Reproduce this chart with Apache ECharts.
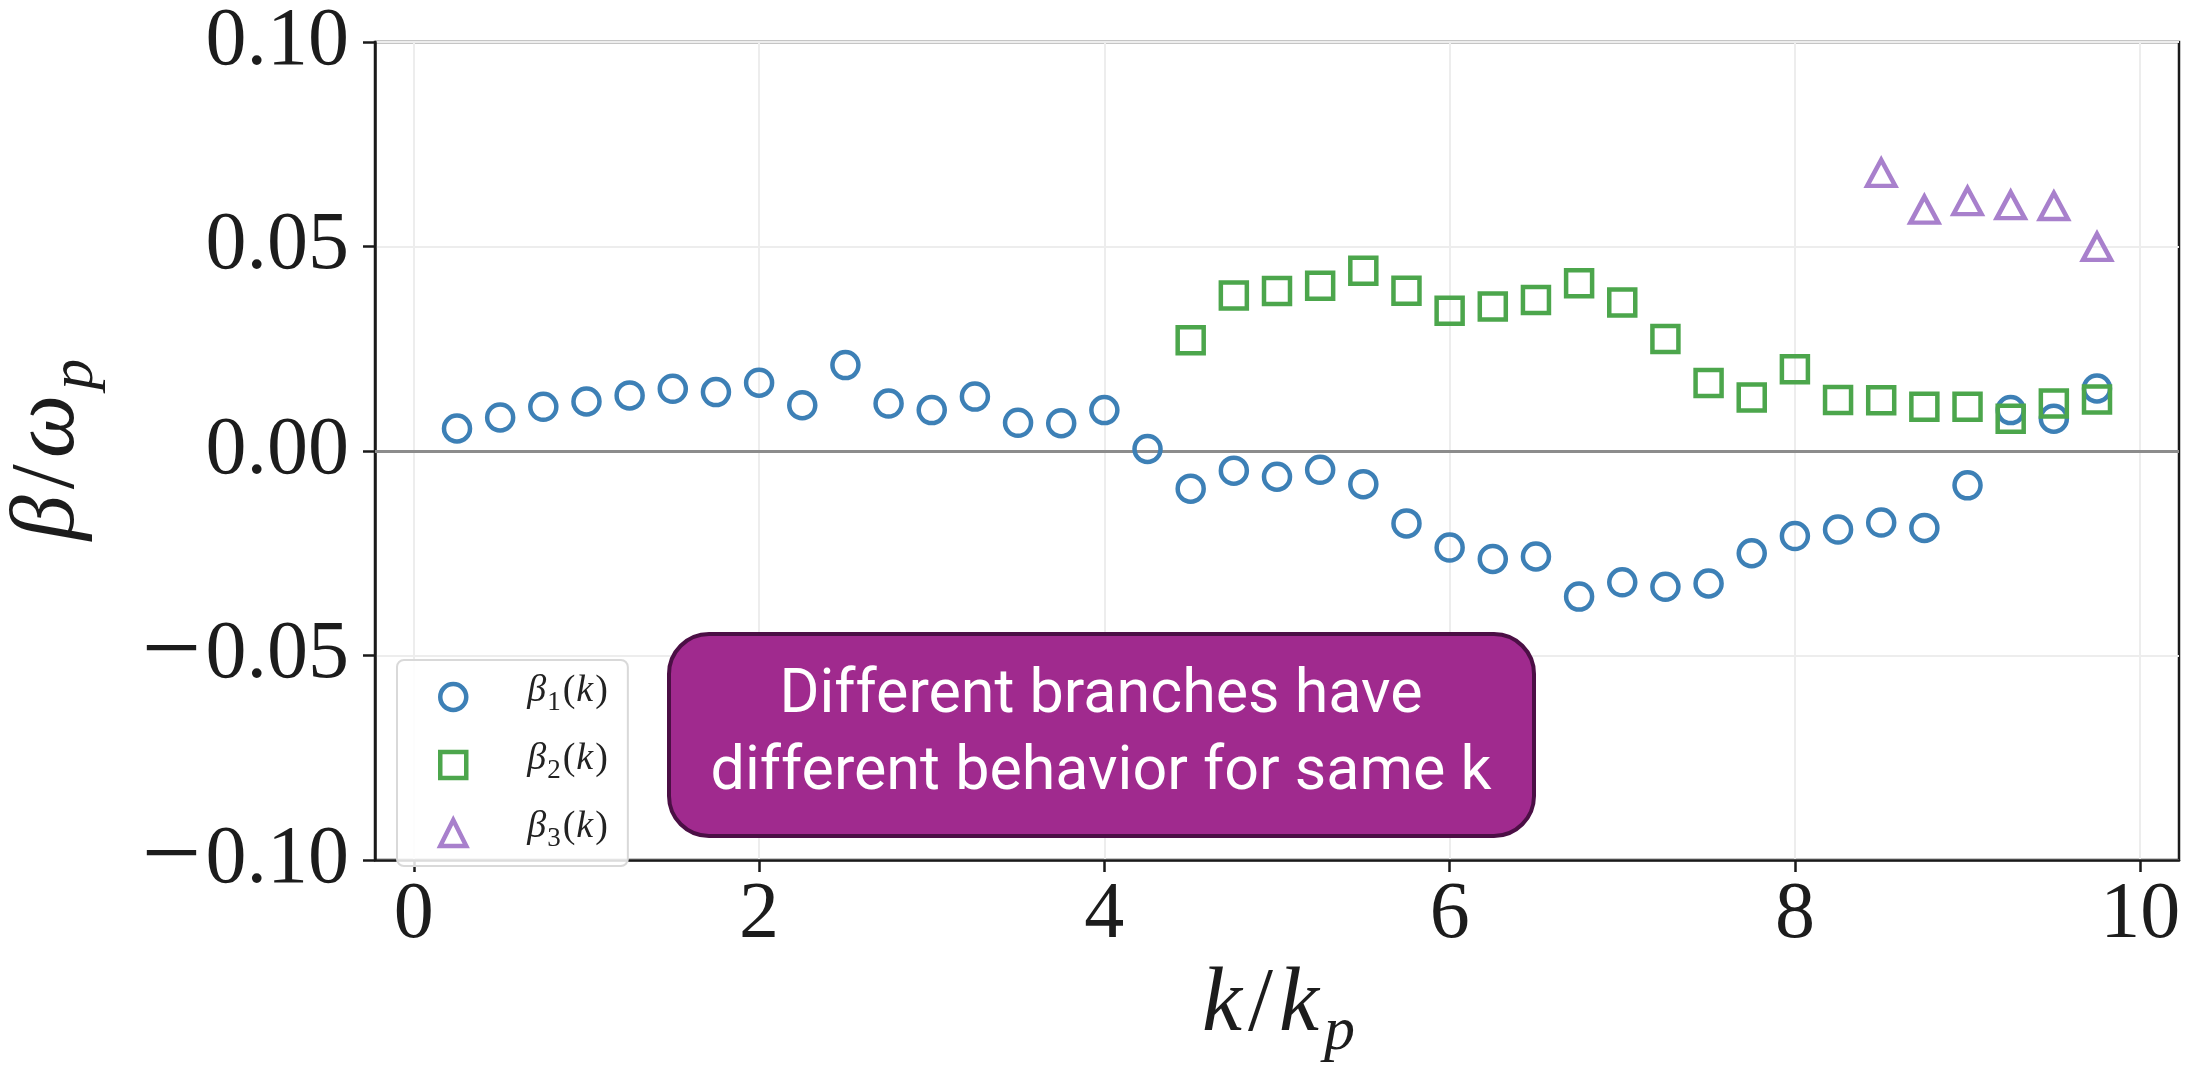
<!DOCTYPE html>
<html>
<head>
<meta charset="utf-8">
<script src="https://cdn.jsdelivr.net/npm/echarts@6/dist/echarts.min.js"></script>
<style>
  html, body { margin: 0; padding: 0; background: #fff; }
  #chart { width: 2193px; height: 1077px; }
</style>
</head>
<body>
<div id="chart"></div>
<script>
// ---- data ----
const kBranch1 = [0.25, 0.5, 0.75, 1.0, 1.25, 1.5, 1.75, 2.0, 2.25, 2.5, 2.75, 3.0, 3.25, 3.5, 3.75, 4.0,
  4.25, 4.5, 4.75, 5.0, 5.25, 5.5, 5.75, 6.0, 6.25, 6.5, 6.75, 7.0, 7.25, 7.5, 7.75, 8.0,
  8.25, 8.5, 8.75, 9.0, 9.25, 9.5, 9.75];
const beta1 = [0.0055, 0.0082, 0.0108, 0.0121, 0.0136, 0.0152, 0.0144, 0.0167, 0.0112, 0.0210, 0.0116, 0.0100,
  0.0133, 0.0069, 0.0068, 0.0100, 0.0005, -0.0092, -0.0048, -0.0063, -0.0046, -0.0081, -0.0177, -0.0236,
  -0.0264, -0.0258, -0.0356, -0.0321, -0.0332, -0.0324, -0.0250, -0.0208, -0.0192, -0.0175, -0.0188,
  -0.0084, 0.0100, 0.0079, 0.0153];
const kBranch2 = [4.5, 4.75, 5.0, 5.25, 5.5, 5.75, 6.0, 6.25, 6.5, 6.75, 7.0, 7.25, 7.5, 7.75, 8.0, 8.25,
  8.5, 8.75, 9.0, 9.25, 9.5, 9.75];
const beta2 = [0.0271, 0.0380, 0.0391, 0.0404, 0.0441, 0.0392, 0.0343, 0.0353, 0.0369, 0.0410, 0.0363,
  0.0274, 0.0166, 0.0131, 0.0200, 0.0125, 0.0124, 0.0108, 0.0108, 0.0079, 0.0116, 0.0126];
const kBranch3 = [8.5, 8.75, 9.0, 9.25, 9.5, 9.75];
const beta3 = [0.0680, 0.0590, 0.0611, 0.0601, 0.0599, 0.0499];
const xTicks = [0, 2, 4, 6, 8, 10];
const yTicks = [-0.10, -0.05, 0.00, 0.05, 0.10];
const seriesNames = ['β1(k)', 'β2(k)', 'β3(k)'];
const annotationLines = ['Different branches have', 'different behavior for same k'];

// ---- helpers ----
const pairs = (xs, ys) => xs.map((x, i) => [x, ys[i]]);
const SERIF = '"Liberation Serif", "DejaVu Serif", serif';
const INK = '#1c1c1c';
const colors = ['#3d80b6', '#4ca64c', '#a880cc'];
const symbols = ['circle', 'rect', 'triangle'];
const dataSets = [pairs(kBranch1, beta1), pairs(kBranch2, beta2), pairs(kBranch3, beta3)];

const mainRich = {
  i: { fontFamily: SERIF, fontStyle: 'italic', fontSize: 90, lineHeight: 90, verticalAlign: 'bottom', padding: [0, 3, 13, 3], color: INK },
  r: { fontFamily: SERIF, fontSize: 90, lineHeight: 90, verticalAlign: 'bottom', padding: [0, 3, 13, 3], color: INK },
  s: { fontFamily: SERIF, fontStyle: 'italic', fontSize: 62, lineHeight: 62, verticalAlign: 'bottom', padding: [0, 0, 0, 2], color: INK }
};

const legendRich = {
  g: { fontFamily: SERIF, fontStyle: 'italic', fontSize: 38, lineHeight: 38, verticalAlign: 'bottom', padding: [0, 1, 6, 56], color: '#222' },
  s: { fontFamily: SERIF, fontSize: 27, lineHeight: 27, verticalAlign: 'bottom', padding: [0, 2, 0, 0], color: '#222' },
  r: { fontFamily: SERIF, fontSize: 38, lineHeight: 38, verticalAlign: 'bottom', padding: [0, 0, 6, 0], color: '#222' },
  i: { fontFamily: SERIF, fontStyle: 'italic', fontSize: 38, lineHeight: 38, verticalAlign: 'bottom', padding: [0, 2, 6, 1], color: '#222' }
};

const series = seriesNames.map((name, idx) => {
  const s = {
    name: name,
    type: 'scatter',
    data: dataSets[idx],
    symbol: symbols[idx],
    symbolSize: idx === 2 ? [28, 26] : 26,
    itemStyle: { color: 'rgba(0,0,0,0)', borderColor: colors[idx], borderWidth: 4.5, opacity: 1 },
    z: 3 + idx
  };
  if (idx === 0) {
    s.markLine = {
      silent: true,
      symbol: ['none', 'none'],
      label: { show: false },
      lineStyle: { color: '#8c8c8c', width: 3, type: 'solid' },
      data: [{ yAxis: 0 }],
      z: 2
    };
  }
  return s;
});

const chart = echarts.init(document.getElementById('chart'), null, { renderer: 'canvas' });
chart.setOption({
  animation: false,
  backgroundColor: '#ffffff',
  grid: {
    left: 375, right: 14, top: 42, bottom: 217,
    show: true, borderColor: '#1a1a1a', borderWidth: 2.5,
    containLabel: false, outerBoundsMode: 'none'
  },
  xAxis: {
    type: 'value',
    min: -0.225, max: 10.225,
    name: '{i|k}{r|/}{i|k}{s|p}',
    nameLocation: 'middle',
    nameGap: 114,
    nameTextStyle: { rich: mainRich },
    axisLine: { show: true, onZero: false, lineStyle: { color: '#1a1a1a', width: 2.5 } },
    axisTick: { show: true, customValues: xTicks, length: 12, lineStyle: { color: '#1a1a1a', width: 2.5 } },
    axisLabel: { customValues: xTicks, margin: 16, fontFamily: SERIF, fontSize: 80, color: INK },
    splitLine: { show: true, lineStyle: { color: '#ededed', width: 2 } }
  },
  yAxis: {
    type: 'value',
    min: -0.10, max: 0.10, interval: 0.05,
    name: '{i|β}{r|/}{i|ω}{s|p}',
    nameLocation: 'middle',
    nameGap: 268,
    nameRotate: 90,
    nameTextStyle: { rich: mainRich },
    axisLine: { show: true, onZero: false, lineStyle: { color: '#1a1a1a', width: 2.5 } },
    axisTick: { show: true, length: 12, lineStyle: { color: '#1a1a1a', width: 2.5 } },
    axisLabel: {
      margin: 26, fontFamily: SERIF, fontSize: 82, color: INK,
      formatter: v => (v < -1e-9 ? '{m|\u2212}' : '') + '{n|' + Math.abs(v).toFixed(2) + '}',
      rich: {
        m: { fontFamily: SERIF, fontSize: 106, color: INK, padding: [0, 4, 0, 0] },
        n: { fontFamily: SERIF, fontSize: 82, color: INK }
      }
    },
    splitLine: { show: true, lineStyle: { color: '#ededed', width: 2 } }
  },
  legend: {
    orient: 'vertical',
    left: 397, top: 660,
    padding: [12, 20, 14, 41],
    itemWidth: 26, itemHeight: 26,
    itemGap: 24,
    backgroundColor: 'rgba(255,255,255,0.85)',
    borderColor: '#d9d9d9', borderWidth: 2, borderRadius: 7,
    itemStyle: { borderWidth: 4.5, opacity: 1 },
    data: seriesNames,
    formatter: function (name) {
      const n = name.charAt(1);
      return '{g|β}{s|' + n + '}{r|(}{i|k}{r|)}';
    },
    textStyle: { rich: legendRich }
  },
  graphic: [{
    type: 'group',
    left: 667, top: 632,
    z: 100,
    children: [{
      type: 'rect',
      z: 100,
      shape: { x: 0, y: 0, width: 865, height: 202, r: 40 },
      style: { fill: '#a02a8e', stroke: '#4b0f45', lineWidth: 4 }
    }, {
      type: 'text',
      z: 101,
      x: 432, y: 101,
      style: {
        text: annotationLines.join('\n'),
        fill: '#ffffff',
        font: '61px Roboto, "Noto Sans", sans-serif',
        lineHeight: 77,
        align: 'center',
        verticalAlign: 'middle'
      }
    }]
  }],
  series: series
});
</script>
</body>
</html>
